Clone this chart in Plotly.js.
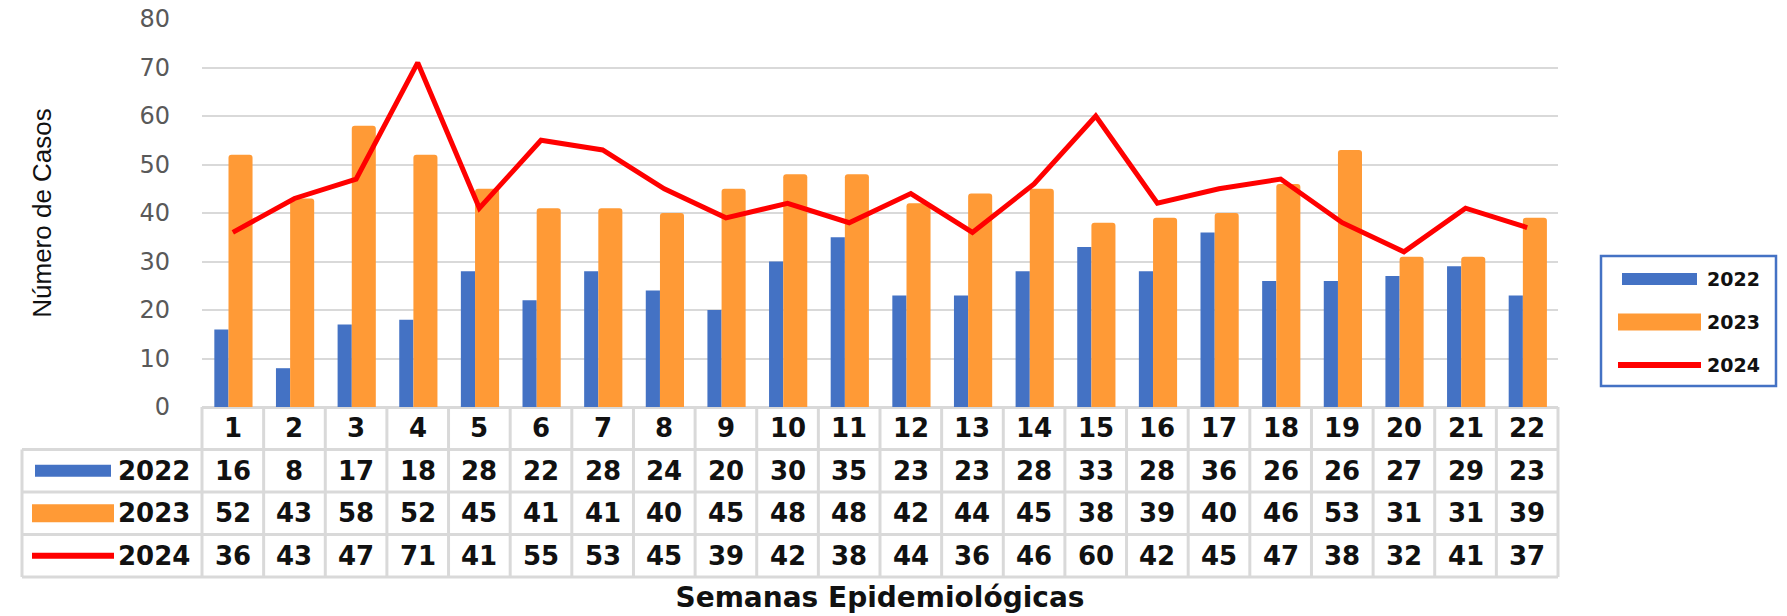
<!DOCTYPE html>
<html>
<head>
<meta charset="utf-8">
<script src="https://cdn.plot.ly/plotly-3.0.1.min.js"></script>
<style>
html,body{margin:0;padding:0;background:#fff;}
#chart{width:1787px;height:616px;}
</style>
</head>
<body>
<div id="chart"></div>
<script>
// ---- data ----
const weeks = ["1","2","3","4","5","6","7","8","9","10","11","12","13","14","15","16","17","18","19","20","21","22"];
const cases2022 = [16,8,17,18,28,22,28,24,20,30,35,23,23,28,33,28,36,26,26,27,29,23];
const cases2023 = [52,43,58,52,45,41,41,40,45,48,48,42,44,45,38,39,40,46,53,31,31,39];
const cases2024 = [36,43,47,71,41,55,53,45,39,42,38,44,36,46,60,42,45,47,38,32,41,37];
const seriesNames = ["2022","2023","2024"];
const yTicks = [0,10,20,30,40,50,60,70,80];

// ---- style / layout constants ----
const W = 1787, H = 616;
const M = {l:202, r:229, t:19, b:209};
const plotW = W - M.l - M.r, plotH = H - M.t - M.b;
const px2x = p => (p - M.l) / plotW;           // page px -> paper x
const px2y = p => (H - M.b - p) / plotH;       // page px -> paper y
const BLUE = "#4472C4", ORANGE = "#FF9A36", RED = "#FF0000", GRID = "#D9D9D9";
const rowH = 42.5;        // table row height in px
const tableLeftPx = 22;
const nCol = weeks.length;
const tableFont = {family:"DejaVu Sans", size:26, color:"#111", weight:"bold"};

const traces = [
  {type:"bar", name:seriesNames[0], x:weeks, y:cases2022, marker:{color:BLUE},
   width:0.23, offset:-0.30, hoverinfo:"x+y+name"},
  {type:"bar", name:seriesNames[1], x:weeks, y:cases2023, marker:{color:ORANGE, cornerradius:3},
   width:0.39, offset:-0.07, hoverinfo:"x+y+name"},
  {type:"scatter", mode:"lines", name:seriesNames[2], x:weeks, y:cases2024,
   line:{color:RED, width:5}, hoverinfo:"x+y+name"}
];

const shapes = [];
const annotations = [];
const line = (x0,y0,x1,y1,color,width) => shapes.push({type:"line", xref:"paper", yref:"paper",
   x0, y0, x1, y1, line:{color, width}, layer:"below"});

// table grid
const yRows = [0,1,2,3,4].map(k => px2y(H - M.b + k*rowH));
for (let k = 1; k <= 4; k++) line(px2x(tableLeftPx), yRows[k], 1, yRows[k], GRID, 3);
for (let c = 0; c <= nCol; c++) line(c/nCol, yRows[0], c/nCol, yRows[4], GRID, 3);
line(px2x(tableLeftPx), yRows[1], px2x(tableLeftPx), yRows[4], GRID, 3);

// table values (x given as category index so it lands on the matching bar group)
const rowsData = [cases2022, cases2023, cases2024];
rowsData.forEach((arr, r) => {
  const yc = (yRows[r+1] + yRows[r+2]) / 2;
  arr.forEach((v, i) => annotations.push({xref:"x", yref:"paper", x:i, y:yc,
     text:String(v), showarrow:false, font:tableFont, xanchor:"center", yanchor:"middle"}));
  // series name in the key column
  annotations.push({xref:"paper", yref:"paper", x:px2x(192), y:yc, text:seriesNames[r],
     showarrow:false, font:tableFont, xanchor:"right", yanchor:"middle"});
});
// header row (weeks)
weeks.forEach((w, i) => annotations.push({xref:"x", yref:"paper", x:i, y:(yRows[0]+yRows[1])/2,
   text:w, showarrow:false, font:tableFont, xanchor:"center", yanchor:"middle"}));

// key swatches in the table
const swatch = (x0p, x1p, ycPx, hPx, color) => shapes.push({type:"rect", xref:"paper", yref:"paper",
   x0:px2x(x0p), x1:px2x(x1p), y0:px2y(ycPx - hPx/2), y1:px2y(ycPx + hPx/2),
   fillcolor:color, line:{width:0}});
const ycRow = r => H - M.b + (r + 1.5) * rowH;
swatch(35, 111, ycRow(0), 12, BLUE);
swatch(32, 114, ycRow(1), 18, ORANGE);
swatch(32, 114, ycRow(2), 6, RED);

// right legend box
shapes.push({type:"rect", xref:"paper", yref:"paper", x0:px2x(1601), x1:px2x(1776),
  y0:px2y(386), y1:px2y(256), line:{color:BLUE, width:2.5}, fillcolor:"rgba(0,0,0,0)"});
const legY = [279, 322, 365];
swatch(1622, 1697, legY[0], 12, BLUE);
swatch(1618, 1701, legY[1], 17, ORANGE);
swatch(1618, 1701, legY[2], 6, RED);
legY.forEach((yp, r) => annotations.push({xref:"paper", yref:"paper", x:px2x(1705), y:px2y(yp),
  text:seriesNames[r], showarrow:false, xanchor:"left", yanchor:"middle",
  font:{family:"DejaVu Sans", size:19, color:"#111", weight:"bold"}}));

const layout = {
  width:W, height:H, margin:M, paper_bgcolor:"#fff", plot_bgcolor:"#fff",
  barmode:"overlay", showlegend:false,
  xaxis:{type:"category", range:[-0.5, nCol-0.5], showticklabels:false, ticks:"",
         showgrid:false, zeroline:false, showline:false, fixedrange:true,
         title:{text:"Semanas Epidemiológicas", standoff:180,
                font:{family:"DejaVu Sans", size:28, color:"#111", weight:"bold"}}},
  yaxis:{range:[0,80], tickvals:yTicks, showgrid:true, gridcolor:GRID, gridwidth:2,
         zeroline:true, zerolinecolor:GRID, zerolinewidth:3, showline:false, ticks:"",
         ticklabelstandoff:31,
         tickfont:{family:"DejaVu Sans", size:24, color:"#595959"}, fixedrange:true,
         title:{text:"Número de Casos", standoff:80,
                font:{family:"Liberation Sans", size:26, color:"#111"}}},
  shapes, annotations
};

Plotly.newPlot("chart", traces, layout, {displayModeBar:false, staticPlot:true});
</script>
</body>
</html>
